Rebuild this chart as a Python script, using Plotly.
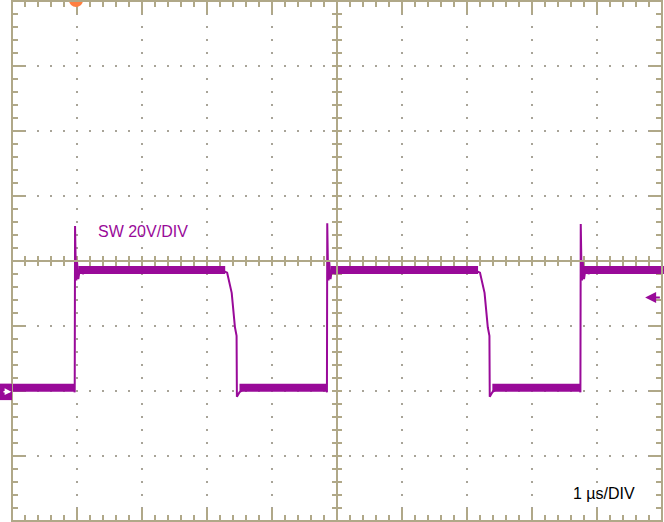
import plotly.graph_objects as go

# screen geometry of the scope: 10 x 8 divisions, 65 px per division
PX = 65.0
X_MIN, X_MAX = -12 / PX, 652 / PX
Y_MIN, Y_MAX = -261 / PX, 261 / PX

# SW node trace: time in us (1 us/div), amplitude in divisions (20 V/div)
t_us = [-0.19, 0.955,
        0.965, 0.97, 0.98, 0.99, 1.0, 1.02, 1.05, 1.09, 1.14, 1.2,
        3.22, 3.31, 3.38, 3.43, 3.455, 3.46, 3.5, 3.58,
        4.83,
        4.845, 4.85, 4.86, 4.87, 4.88, 4.9, 4.93, 4.97, 5.02, 5.08,
        7.11, 7.2, 7.27, 7.32, 7.345, 7.35, 7.39, 7.47,
        8.73,
        8.745, 8.75, 8.76, 8.77, 8.78, 8.8, 8.83, 8.87, 8.92, 8.98,
        10.03]
sw_div = [-1.96, -1.95,
          -2.02, 0.54, -0.05, -0.3, 0.0, -0.28, -0.08, -0.2, -0.12, -0.15,
          -0.14, -0.18, -0.49, -1.02, -1.15, -2.09, -2.02, -1.96,
          -1.94,
          -2.02, 0.58, -0.05, -0.3, 0.0, -0.28, -0.08, -0.2, -0.12, -0.15,
          -0.14, -0.18, -0.49, -1.02, -1.15, -2.09, -2.02, -1.96,
          -1.94,
          -2.02, 0.57, -0.05, -0.3, 0.0, -0.28, -0.08, -0.2, -0.12, -0.15,
          -0.14]

# noisy flat parts (start, end, level in div)
band_start = [-0.19, 3.5, 7.39, 1.02, 4.9, 8.8]
band_end = [0.96, 4.84, 8.74, 3.28, 7.17, 10.03]
band_level = [-1.95, -1.95, -1.95, -0.14, -0.14, -0.14]

ground_div = -2.01
trigger_div = -0.56
trigger_t = 0.985

PURPLE = '#990a99'
GRID = '#b0a888'
DOT = '#a8a498'

fig = go.Figure()

# graticule: dotted major lines
dot_x, dot_y = [], []
for i in range(1, 10):
    if i == 5:
        continue
    for k in range(1, 40):
        dot_x.append(i)
        dot_y.append(-4 + k * 0.2)
for j in range(-3, 4):
    if j == 0:
        continue
    for k in range(1, 50):
        dot_x.append(k * 0.2)
        dot_y.append(j)
fig.add_trace(go.Scatter(x=dot_x, y=dot_y, mode='markers', hoverinfo='skip',
                         marker=dict(symbol='square', size=2, color=DOT)))

# ticks on border and centre cross
tx, ty = [], []
minor = 6 / PX
major = 13 / PX
cross = 5 / PX
for k in range(1, 50):
    x = k * 0.2
    ln = major if k % 5 == 0 else minor
    tx += [x, x, None, x, x, None, x, x, None]
    ty += [4, 4 - ln, None, -4, -4 + ln, None, -cross, cross, None]
for k in range(1, 40):
    y = -4 + k * 0.2
    ln = major if k % 5 == 0 else minor
    tx += [0, ln, None, 10, 10 - ln, None, 5 - cross, 5 + cross, None]
    ty += [y, y, None, y, y, None, y, y, None]
fig.add_trace(go.Scatter(x=tx, y=ty, mode='lines', hoverinfo='skip',
                         line=dict(color=GRID, width=2)))

fig.add_shape(type='rect', x0=0, x1=10, y0=-4, y1=4, line=dict(color=GRID, width=2))
fig.add_shape(type='line', x0=5, x1=5, y0=-4, y1=4, line=dict(color=GRID, width=2))
fig.add_shape(type='line', x0=0, x1=10, y0=0, y1=0, line=dict(color=GRID, width=2))

# noise band of the waveform
bx, by = [], []
for s, e, v in zip(band_start, band_end, band_level):
    bx += [s, e, None]
    by += [v, v, None]
fig.add_trace(go.Scatter(x=bx, y=by, mode='lines', hoverinfo='skip',
                         line=dict(color=PURPLE, width=8)))

fig.add_trace(go.Scatter(x=t_us, y=sw_div, mode='lines', name='SW',
                         line=dict(color=PURPLE, width=2)))

# trigger position marker
fig.add_trace(go.Scatter(x=[trigger_t], y=[Y_MAX], mode='markers', cliponaxis=False,
                         hoverinfo='skip',
                         marker=dict(size=14, color='#ff7f40', line=dict(width=0))))

# ground reference marker
fig.add_shape(type='rect', x0=X_MIN, x1=0, y0=ground_div - 0.13, y1=ground_div + 0.12,
              fillcolor=PURPLE, line=dict(width=0))
fig.add_annotation(x=-0.01, y=ground_div, ax=X_MIN + 0.03, ay=ground_div,
                   xref='x', yref='y', axref='x', ayref='y', text='',
                   showarrow=True, arrowhead=2, arrowsize=0.9, arrowwidth=1.5,
                   arrowcolor='white')

# trigger level arrow
fig.add_annotation(x=9.74, y=trigger_div, ax=9.99, ay=trigger_div,
                   xref='x', yref='y', axref='x', ayref='y', text='',
                   showarrow=True, arrowhead=2, arrowsize=1.1, arrowwidth=2,
                   arrowcolor=PURPLE)

fig.add_annotation(x=1.29, y=0.45, text='SW 20V/DIV', showarrow=False,
                   xanchor='left', yanchor='middle',
                   font=dict(family='Liberation Sans, Arial', size=16, color=PURPLE))
fig.add_annotation(x=8.6, y=-3.57, text='1 \u00b5s/DIV', showarrow=False,
                   xanchor='left', yanchor='middle',
                   font=dict(family='Liberation Sans, Arial', size=16, color='black'))

fig.update_xaxes(range=[X_MIN, X_MAX], visible=False, fixedrange=True)
fig.update_yaxes(range=[Y_MIN, Y_MAX], visible=False, fixedrange=True)
fig.update_layout(
    width=664, height=522,
    margin=dict(l=0, r=0, t=0, b=0),
    paper_bgcolor='white', plot_bgcolor='white',
    showlegend=False
)

# drop the default page margin so the screen fills the window
fig.write_html("out.html", config={'displayModeBar': False},
               post_script="document.body.style.margin='0';")
